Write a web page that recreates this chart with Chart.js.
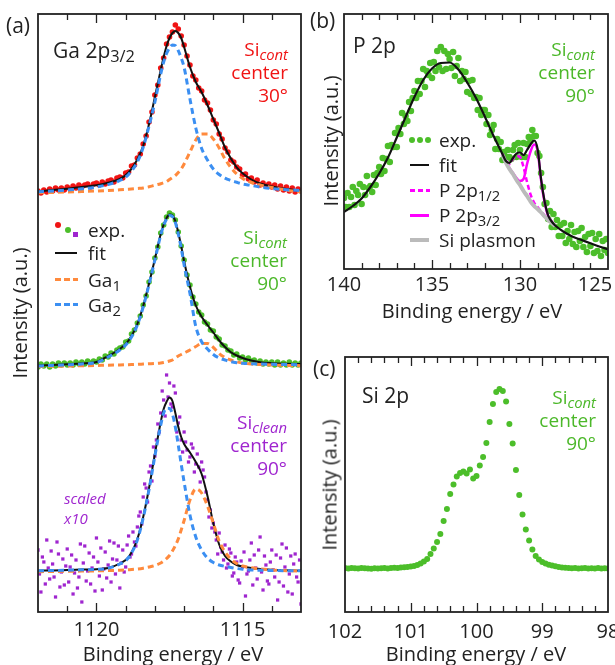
<!DOCTYPE html>
<html>
<head>
    <title>Ga 2p / P 2p / Si 2p</title>
    <script src="https://cdn.jsdelivr.net/npm/chart.js"></script>
    <style>
        body { margin: 0; background: #fff; font-family: "Open Sans", sans-serif; color: #222; }
        #fig { position: relative; width: 615px; height: 665px; overflow: hidden; }
        canvas { position: absolute; }
        .t { position: absolute; white-space: nowrap; transform: translateY(-50%); line-height: 1; font-size: 19px; }
        .big { font-size: 21px; }
        .ann { position: absolute; text-align: right; font-size: 19px; line-height: 23px; white-space: nowrap; }
        .ylab { position: absolute; font-size: 20px; white-space: nowrap; transform: translate(-50%, -50%) rotate(-90deg); }
        .xlab { position: absolute; font-size: 20px; white-space: nowrap; transform: translate(-50%, -50%); }
        sub { font-size: 0.78em; vertical-align: -0.3em; line-height: 0; }
        .dot { position: absolute; border-radius: 50%; }
        .sq { position: absolute; }
        .seg { position: absolute; }
    </style>
</head>
<body>
<div id="fig">
    <canvas id="chartA" width="310" height="665" style="left:0;top:0"></canvas>
    <canvas id="chartB" width="305" height="300" style="left:310px;top:0"></canvas>
    <canvas id="chartC" width="305" height="365" style="left:310px;top:300px"></canvas>

    <!-- panel (a) texts -->
    <div class="t big" style="left:6px;top:25px">(a)</div>
    <div class="t big" style="left:53px;top:50px">Ga 2p<sub>3/2</sub></div>
    <div class="ann" style="right:327px;top:38px;color:#f01414">Si<sub><i>cont</i></sub><br>center<br>30°</div>
    <div class="ann" style="right:328px;top:226px;color:#4cb82a">Si<sub><i>cont</i></sub><br>center<br>90°</div>
    <div class="ann" style="right:328px;top:411px;color:#9f25cf">Si<sub><i>clean</i></sub><br>center<br>90°</div>
    <div style="position:absolute;left:64px;top:488px;font-size:15px;line-height:20px;font-style:italic;color:#9f25cf">scaled<br>x10</div>
    <div class="ylab" style="left:19px;top:313px">Intensity (a.u.)</div>
    <div class="xlab" style="left:173px;top:653px">Binding energy / eV</div>

    <!-- legend (a) -->
    <div class="dot" style="left:55px;top:222px;width:6px;height:6px;background:#f01414"></div>
    <div class="dot" style="left:65px;top:227px;width:6px;height:6px;background:#4cbe2a"></div>
    <div class="sq" style="left:73px;top:232px;width:5px;height:5px;background:#9f25cf"></div>
    <div class="t" style="left:88px;top:230px">exp.</div>
    <div class="seg" style="left:55px;top:252px;width:22px;height:2px;background:#111"></div>
    <div class="t" style="left:88px;top:253px">fit</div>
    <div class="seg" style="left:55px;top:278px;width:23px;height:3px;background:repeating-linear-gradient(to right,#ff8a3d 0 6px,transparent 6px 9px)"></div>
    <div class="t" style="left:88px;top:280px">Ga<sub>1</sub></div>
    <div class="seg" style="left:55px;top:303px;width:23px;height:3px;background:repeating-linear-gradient(to right,#3b8ff2 0 6px,transparent 6px 9px)"></div>
    <div class="t" style="left:88px;top:305px">Ga<sub>2</sub></div>

    <!-- panel (b) texts -->
    <div class="t big" style="left:310px;top:20px">(b)</div>
    <div class="t big" style="left:353px;top:45px">P 2p</div>
    <div class="ann" style="right:20px;top:38px;color:#4cb82a">Si<sub><i>cont</i></sub><br>center<br>90°</div>
    <div class="ylab" style="left:330px;top:141px">Intensity (a.u.)</div>
    <div class="xlab" style="left:472px;top:310px">Binding energy / eV</div>

    <!-- legend (b) -->
    <div class="dot" style="left:409px;top:137px;width:6px;height:6px;background:#4cbe2a"></div>
    <div class="dot" style="left:417px;top:137px;width:6px;height:6px;background:#4cbe2a"></div>
    <div class="dot" style="left:425px;top:137px;width:6px;height:6px;background:#4cbe2a"></div>
    <div class="t" style="left:439px;top:140px">exp.</div>
    <div class="seg" style="left:410px;top:164px;width:19px;height:2px;background:#111"></div>
    <div class="t" style="left:439px;top:165px">fit</div>
    <div class="seg" style="left:410px;top:189px;width:20px;height:2.5px;background:repeating-linear-gradient(to right,#ff00ff 0 5px,transparent 5px 8px)"></div>
    <div class="t" style="left:439px;top:190px">P 2p<sub>1/2</sub></div>
    <div class="seg" style="left:410px;top:214px;width:19px;height:2.5px;background:#ff00ff"></div>
    <div class="t" style="left:439px;top:215px">P 2p<sub>3/2</sub></div>
    <div class="seg" style="left:410px;top:238px;width:19px;height:4px;background:#bbbbbb"></div>
    <div class="t" style="left:439px;top:240px">Si plasmon</div>

    <!-- panel (c) texts -->
    <div class="t big" style="left:313px;top:368px">(c)</div>
    <div class="t big" style="left:362px;top:395px">Si 2p</div>
    <div class="ann" style="right:19px;top:386px;color:#4cb82a">Si<sub><i>cont</i></sub><br>center<br>90°</div>
    <div class="ylab" style="left:329px;top:485px">Intensity (a.u.)</div>
    <div class="xlab" style="left:476px;top:653px">Binding energy / eV</div>
</div>

<script>
    // ---- Ga 2p3/2 (panel a) ----
    const gaFitEnergy = [1122.0, 1121.5, 1121.0, 1120.5, 1120.0, 1119.6, 1119.2, 1118.9, 1118.6, 1118.4, 1118.2, 1118.0,
        1117.8, 1117.7, 1117.6, 1117.5, 1117.4, 1117.3, 1117.2, 1117.1, 1117.0, 1116.8, 1116.6, 1116.4,
        1116.2, 1116.0, 1115.8, 1115.6, 1115.4, 1115.2, 1115.0, 1114.7, 1114.4, 1114.0, 1113.5, 1113.0];

    // intensities are stacked (offset) as in the figure
    const gaTopFit = [420.5, 422, 423.3, 425, 426.7, 429.3, 433, 439.5, 452.5, 466.3, 488, 515, 542, 555, 566, 574, 579, 581,
        579, 574, 565, 545, 530, 519.7, 507, 493, 479, 464.5, 453.5, 444.7, 438.7, 432.5, 428.5, 425.5, 423, 421.3];
    const gaTopGa2 = [420.3, 421, 422, 423.2, 425, 427.5, 431.5, 437.5, 450, 464.7, 486, 510, 538, 550, 558.5, 564, 567, 566.5,
        561.3, 554, 544.7, 513, 484, 463.5, 452, 443, 437.5, 433.8, 431.5, 429.7, 428, 426.6, 425, 423.5, 422.3, 421.5];
    const gaTopGa1 = [419.3, 419.6, 420, 420.5, 421, 421.5, 422.2, 422.8, 423.5, 424, 425.2, 426.8, 428.3, 429.3, 430.5, 432.5, 434.5, 436.5,
        439.5, 443, 448, 460, 472, 478, 478, 473, 464, 453, 444.5, 438, 433.5, 429.5, 427, 424.5, 422, 420];

    const gaMidFit = [246.3, 247, 247.7, 248.5, 250, 256, 263, 271.5, 288, 306, 328.5, 353, 378, 387.5, 394, 397.5, 396.5, 391,
        379.5, 366, 351, 325.3, 306.5, 295.3, 287, 279.5, 271.5, 265, 259.8, 256.5, 254, 251.5, 249.7, 248.8, 248.3, 248];
    const gaMidGa2 = [246, 246.6, 247.2, 248, 249.5, 255, 262, 270.5, 287, 305, 327.5, 352, 377, 386.5, 393, 396.5, 395.5, 389.5,
        378, 364, 347, 318.5, 285.5, 270.3, 263, 257.5, 254, 252, 250.3, 249.3, 248.7, 248.3, 248, 247.7, 247.5, 247.3];
    const gaMidGa1 = [245.5, 245.7, 246, 246.2, 246.5, 246.8, 247, 247.3, 247.6, 247.9, 248.2, 248.5, 249, 249.5, 250.2, 251, 252, 254,
        256, 257.5, 259, 262, 265.5, 268.5, 268.5, 264.5, 258.5, 254.5, 252, 250.3, 249, 248, 247.5, 247, 246.6, 246.3];

    const gaBotFit = [41.3, 41.6, 42, 42.4, 42.8, 44, 48.5, 55, 73, 95, 124, 158, 190, 203, 210.3, 214.5, 211, 199,
        185.3, 175, 168, 159.5, 150, 138, 116, 88.7, 67.5, 56, 50.5, 47, 45.5, 44, 43, 42.3, 41.8, 41.3];
    const gaBotGa2 = [41.3, 41.5, 41.8, 42.2, 42.6, 43.8, 48, 54.5, 72, 94, 122.5, 156, 187, 199, 203.7, 203.5, 198, 185,
        167, 148, 130, 97, 75, 62, 54, 49.5, 47, 45.6, 44.5, 43.5, 42.8, 42, 41.7, 41.5, 41.3, 41.3];
    const gaBotGa1 = [40.3, 40.5, 40.7, 40.9, 41.1, 41.4, 41.8, 42.3, 43, 43.8, 45, 46.5, 49, 51, 53.5, 56.5, 61, 66.5,
        73, 82, 91.5, 112, 123, 119, 106, 88.7, 71, 60, 53, 48.5, 46, 44.3, 43.2, 42, 41.3, 40.8];

    const gaExpEnergy = [1122.0, 1121.9, 1121.8, 1121.7, 1121.6, 1121.5, 1121.4, 1121.3, 1121.2, 1121.1,
        1121.0, 1120.9, 1120.8, 1120.7, 1120.6, 1120.5, 1120.4, 1120.3, 1120.2, 1120.1,
        1120.0, 1119.9, 1119.8, 1119.7, 1119.6, 1119.5, 1119.4, 1119.3, 1119.2, 1119.1,
        1119.0, 1118.9, 1118.8, 1118.7, 1118.6, 1118.5, 1118.4, 1118.3, 1118.2, 1118.1,
        1118.0, 1117.9, 1117.8, 1117.7, 1117.6, 1117.5, 1117.4, 1117.3, 1117.2, 1117.1,
        1117.0, 1116.9, 1116.8, 1116.7, 1116.6, 1116.5, 1116.4, 1116.3, 1116.2, 1116.1,
        1116.0, 1115.9, 1115.8, 1115.7, 1115.6, 1115.5, 1115.4, 1115.3, 1115.2, 1115.1,
        1115.0, 1114.9, 1114.8, 1114.7, 1114.6, 1114.5, 1114.4, 1114.3, 1114.2, 1114.1,
        1114.0, 1113.9, 1113.8, 1113.7, 1113.6, 1113.5, 1113.4, 1113.3, 1113.2, 1113.1,
        1113.0];
    const gaTopExp = [421, 419, 422, 420, 423, 421, 424, 422, 424, 422,
        425, 423, 426, 424, 427, 425, 427, 428, 425, 428,
        429, 427, 430, 428, 431, 432, 430, 434, 435, 434,
        439, 440, 446, 447, 454, 458, 468, 476, 490, 500,
        517, 527, 544, 554, 568, 575, 580, 587, 583, 576,
        567, 556, 547, 536, 532, 524, 521, 512, 509, 502,
        492, 488, 478, 473, 464, 460, 452, 450, 445, 443,
        437, 438, 433, 434, 430, 432, 427, 429, 426, 428,
        425, 427, 423, 426, 422, 425, 421, 424, 420, 423,
        421];
    const gaMidExp = [245, 248, 246, 248, 245, 248, 246, 249, 247, 249,
        247, 249, 247, 250, 248, 250, 248, 251, 249, 251,
        250, 253, 252, 256, 255, 259, 258, 262, 264, 265,
        270, 271, 278, 282, 289, 296, 307, 316, 330, 340,
        354, 365, 379, 387, 395, 399, 397, 392, 380, 366,
        352, 337, 327, 315, 308, 300, 297, 290, 288, 282,
        281, 275, 273, 267, 266, 262, 261, 257, 258, 254,
        255, 252, 254, 251, 252, 249, 251, 248, 250, 248,
        250, 247, 250, 247, 249, 247, 250, 247, 249, 247,
        249];

    // clean sample, scaled x10, recorded on a finer grid
    const gaBotEnergy = [1122.00, 1121.95, 1121.90, 1121.85, 1121.80, 1121.75, 1121.70, 1121.65, 1121.60, 1121.55,
        1121.50, 1121.45, 1121.40, 1121.35, 1121.30, 1121.25, 1121.20, 1121.15, 1121.10, 1121.05,
        1121.00, 1120.95, 1120.90, 1120.85, 1120.80, 1120.75, 1120.70, 1120.65, 1120.60, 1120.55,
        1120.50, 1120.45, 1120.40, 1120.35, 1120.30, 1120.25, 1120.20, 1120.15, 1120.10, 1120.05,
        1120.00, 1119.95, 1119.90, 1119.85, 1119.80, 1119.75, 1119.70, 1119.65, 1119.60, 1119.55,
        1119.50, 1119.45, 1119.40, 1119.35, 1119.30, 1119.25, 1119.20, 1119.15, 1119.10, 1119.05,
        1119.00, 1118.95, 1118.90, 1118.85, 1118.80, 1118.75, 1118.70, 1118.65, 1118.60, 1118.55,
        1118.50, 1118.45, 1118.40, 1118.35, 1118.30, 1118.25, 1118.20, 1118.15, 1118.10, 1118.05,
        1118.00, 1117.95, 1117.90, 1117.85, 1117.80, 1117.75, 1117.70, 1117.65, 1117.60, 1117.55,
        1117.50, 1117.45, 1117.40, 1117.35, 1117.30, 1117.25, 1117.20, 1117.15, 1117.10, 1117.05,
        1117.00, 1116.95, 1116.90, 1116.85, 1116.80, 1116.75, 1116.70, 1116.65, 1116.60, 1116.55,
        1116.50, 1116.45, 1116.40, 1116.35, 1116.30, 1116.25, 1116.20, 1116.15, 1116.10, 1116.05,
        1116.00, 1115.95, 1115.90, 1115.85, 1115.80, 1115.75, 1115.70, 1115.65, 1115.60, 1115.55,
        1115.50, 1115.45, 1115.40, 1115.35, 1115.30, 1115.25, 1115.20, 1115.15, 1115.10, 1115.05,
        1115.00, 1114.95, 1114.90, 1114.85, 1114.80, 1114.75, 1114.70, 1114.65, 1114.60, 1114.55,
        1114.50, 1114.45, 1114.40, 1114.35, 1114.30, 1114.25, 1114.20, 1114.15, 1114.10, 1114.05,
        1114.00, 1113.95, 1113.90, 1113.85, 1113.80, 1113.75, 1113.70, 1113.65, 1113.60, 1113.55,
        1113.50, 1113.45, 1113.40, 1113.35, 1113.30, 1113.25, 1113.20, 1113.15, 1113.10, 1113.05,
        1113.00];
    const gaBotExp = [62, 38, 20, 55, 50, 28, 72, 44, 33, 61,
        48, 35, 15, 70, 58, 25, 40, 53, 27, 46,
        63, 30, 45, 57, 18, 39, 52, 24, 35, 68,
        10, 49, 66, 31, 41, 59, 28, 44, 55, 21,
        74, 50, 36, 64, 22, 43, 60, 34, 47, 71,
        30, 53, 69, 38, 52, 66, 24, 49, 62, 40,
        45, 67, 76, 55, 58, 80, 70, 66, 85, 96,
        100, 88, 115, 128, 124, 110, 140, 146, 131, 165,
        156, 172, 188, 180, 199, 221, 212, 196, 237, 215,
        229, 208, 205, 226, 219, 180, 189, 195, 172, 160,
        180, 170, 162, 150, 155, 168, 164, 140, 148, 158,
        145, 130, 150, 142, 135, 120, 112, 95, 102, 84,
        89, 80, 72, 58, 79, 65, 60, 52, 67, 44,
        48, 63, 59, 36, 39, 55, 50, 32, 29, 51,
        45, 60, 16, 38, 41, 52, 69, 27, 57, 44,
        33, 62, 75, 40, 22, 56, 47, 31, 28, 50,
        62, 42, 35, 57, 12, 30, 54, 68, 26, 45,
        64, 20, 38, 56, 18, 48, 58, 35, 30, 52,
        8];

    // ---- P 2p (panel b) ----
    const pExpEnergy = [140.0, 139.9, 139.8, 139.7, 139.6, 139.5, 139.4, 139.3, 139.2, 139.1,
        139.0, 138.9, 138.8, 138.7, 138.6, 138.5, 138.4, 138.3, 138.2, 138.1,
        138.0, 137.9, 137.8, 137.7, 137.6, 137.5, 137.4, 137.3, 137.2, 137.1,
        137.0, 136.9, 136.8, 136.7, 136.6, 136.5, 136.4, 136.3, 136.2, 136.1,
        136.0, 135.9, 135.8, 135.7, 135.6, 135.5, 135.4, 135.3, 135.2, 135.1,
        135.0, 134.9, 134.8, 134.7, 134.6, 134.5, 134.4, 134.3, 134.2, 134.1,
        134.0, 133.9, 133.8, 133.7, 133.6, 133.5, 133.4, 133.3, 133.2, 133.1,
        133.0, 132.9, 132.8, 132.7, 132.6, 132.5, 132.4, 132.3, 132.2, 132.1,
        132.0, 131.9, 131.8, 131.7, 131.6, 131.5, 131.4, 131.3, 131.2, 131.1,
        131.0, 130.9, 130.8, 130.7, 130.6, 130.5, 130.4, 130.3, 130.2, 130.1,
        130.0, 129.9, 129.8, 129.7, 129.6, 129.5, 129.4, 129.3, 129.2, 129.1,
        129.0, 128.9, 128.8, 128.7, 128.6, 128.5, 128.4, 128.3, 128.2, 128.1,
        128.0, 127.9, 127.8, 127.7, 127.6, 127.5, 127.4, 127.3, 127.2, 127.1,
        127.0, 126.9, 126.8, 126.7, 126.6, 126.5, 126.4, 126.3, 126.2, 126.1,
        126.0, 125.9, 125.8, 125.7, 125.6, 125.5, 125.4, 125.3, 125.2, 125.1,
        125.0];
    const pExp = [71, 62, 76, 62, 72, 82, 64, 78, 74, 85,
        65, 82, 74, 93, 81, 83, 77, 94, 84, 96,
        102, 95, 111, 98, 110, 123, 107, 124, 122, 136,
        122, 141, 135, 156, 145, 153, 148, 167, 158, 171,
        178, 171, 188, 175, 188, 200, 182, 198, 194, 206,
        191, 207, 198, 218, 202, 222, 198, 218, 200, 215,
        210, 201, 217, 193, 203, 211, 188, 198, 190, 197,
        177, 188, 175, 189, 171, 172, 159, 171, 154, 159,
        159, 145, 154, 134, 139, 144, 120, 130, 120, 127,
        109, 117, 112, 119, 112, 110, 119, 124, 112, 126,
        119, 112, 126, 112, 125, 132, 128, 139, 133, 133,
        116, 113, 96, 82, 65, 66, 50, 58, 42, 55,
        42, 49, 33, 44, 33, 46, 26, 38, 30, 44,
        25, 37, 22, 38, 28, 41, 22, 32, 17, 35,
        23, 36, 16, 30, 18, 35, 13, 28, 19, 30,
        16];

    const pFitEnergy = [140, 139.5, 139, 138.5, 138, 137.5, 137, 136.5, 136, 135.5, 135, 134.5, 134, 133.5, 133, 132.5, 132, 131.5, 131,
        130.8, 130.6, 130.4, 130.2, 130.0, 129.8, 129.6, 129.4, 129.2, 129.0, 128.8, 128.6, 128.4, 128.2, 128.0,
        127.5, 127, 126.5, 126, 125.5, 125];
    const pFit = [57, 63, 70.5, 82, 95.5, 111.5, 131.5, 152, 172, 189, 200.5, 206, 206.5, 199.5, 186.5, 171, 152.5, 133, 115,
        108, 106, 111, 115.5, 116.5, 114, 119, 124.5, 128.5, 120, 89.5, 67.5, 53.5, 47.5, 43.5,
        37, 32.3, 29, 25.7, 22.5, 19.7];

    const pCompEnergy = [131.0, 130.8, 130.6, 130.4, 130.2, 130.0, 129.8, 129.6, 129.4, 129.2, 129.0, 128.8, 128.6, 128.4, 128.2, 128.0];
    const pPlasmon = [114, 106.5, 100, 95, 89, 84, 78, 73, 67.5, 63, 60, 56.5, 52.5, 49, 46, 43];
    const p12 = [115, 109, 105, 110, 113, 112, 102, 87, 74.5, 66.5, 62, 57.5, 53.5, 49.5, 46, 43];
    const p32 = [114.5, 107, 101, 96, 91, 88, 90, 105, 117.5, 124.5, 118, 88.5, 66.5, 53, 47.5, 43.5];

    // ---- Si 2p (panel c) ----
    const siEnergy = [102.00, 101.95, 101.90, 101.85, 101.80, 101.75, 101.70, 101.65, 101.60, 101.55,
        101.50, 101.45, 101.40, 101.35, 101.30, 101.25, 101.20, 101.15, 101.10, 101.05,
        101.00, 100.95, 100.90, 100.85, 100.80, 100.75, 100.70, 100.65, 100.60, 100.55,
        100.50, 100.45, 100.40, 100.35, 100.30, 100.25, 100.20, 100.15, 100.10, 100.05,
        100.00, 99.95, 99.90, 99.85, 99.80, 99.75, 99.70, 99.65, 99.60, 99.55,
        99.50, 99.45, 99.40, 99.35, 99.30, 99.25, 99.20, 99.15, 99.10, 99.05,
        99.00, 98.95, 98.90, 98.85, 98.80, 98.75, 98.70, 98.65, 98.60, 98.55,
        98.50, 98.45, 98.40, 98.35, 98.30, 98.25, 98.20, 98.15, 98.10, 98.05,
        98.00];
    const siExp = [44, 43.5, 44, 43.7, 43.5, 44, 43.8, 43.5, 43.3, 43.7,
        43.5, 43.8, 44, 43.6, 44, 44.3, 44, 44.5, 44.8, 45,
        45.5, 46, 47, 48.5, 50.5, 53, 58, 63.5, 70, 78,
        91, 103, 118, 127.5, 135.5, 139, 140.5, 138.5, 142.5, 133.5,
        136, 146.5, 155, 169, 190, 208, 220, 223, 221, 210.5,
        188, 168.5, 142, 117, 97.5, 82.5, 71.5, 62.5, 56, 52.5,
        50, 48.5, 47.3, 46.5, 45.7, 45, 44.6, 44.3, 44, 43.8,
        44, 43.6, 43.8, 44, 43.5, 43.8, 43.6, 44, 43.5, 43.8,
        43.6];

    // ---- axis ticks ----
    const ticksA = [1121, 1120, 1119, 1118, 1117, 1116, 1115, 1114];
    const labelsA = [1120, 1115];
    const ticksB = [139, 138, 137, 136, 135, 134, 133, 132, 131, 130, 129, 128, 127, 126];
    const labelsB = [140, 135, 130, 125];
    const ticksC = [101.8, 101.6, 101.4, 101.2, 101, 100.8, 100.6, 100.4, 100.2, 100, 99.8, 99.6, 99.4, 99.2, 99, 98.8, 98.6, 98.4, 98.2];
    const labelsC = [102, 101, 100, 99, 98];

    const RED = '#f01414', GREEN = '#4cbe2a', PURPLE = '#9f25cf';
    const ORANGE = '#ff8a3d', BLUE = '#3b8ff2', MAGENTA = '#ff00ff', GREY = '#bbbbbb';

    const pts = (xs, ys) => xs.map((x, i) => ({ x: x, y: ys[i] }));

    // frame with inward ticks on top and bottom, plus the tick labels
    const framePlugin = {
        id: 'frame',
        afterDatasetsDraw(chart, args, opts) {
            const ctx = chart.ctx;
            const a = chart.chartArea;
            const x = chart.scales.x;
            ctx.save();
            ctx.strokeStyle = '#222';
            ctx.lineWidth = 1.3;
            ctx.beginPath();
            opts.ticks.forEach(v => {
                const px = Math.round(x.getPixelForValue(v)) + 0.5;
                const len = opts.major.includes(v) ? 9 : 6;
                ctx.moveTo(px, a.bottom); ctx.lineTo(px, a.bottom - len);
                ctx.moveTo(px, a.top); ctx.lineTo(px, a.top + len);
            });
            ctx.stroke();
            ctx.lineWidth = 1.8;
            ctx.strokeRect(a.left, a.top, a.right - a.left, a.bottom - a.top);
            ctx.fillStyle = '#222';
            ctx.font = '20px "Open Sans"';
            ctx.textAlign = 'center';
            ctx.textBaseline = 'middle';
            opts.labels.forEach((v, i) => {
                const shift = opts.shift ? opts.shift[i] : 0;
                ctx.fillText(String(v), x.getPixelForValue(v) + shift, a.bottom + opts.gap);
            });
            ctx.restore();
        }
    };

    function makeChart(id, xMin, xMax, yMax, padding, datasets, frame) {
        return new Chart(document.getElementById(id), {
            type: 'scatter',
            data: { datasets: datasets },
            options: {
                responsive: false,
                animation: false,
                events: [],
                layout: { padding: padding },
                scales: {
                    x: { type: 'linear', reverse: true, min: xMin, max: xMax, display: false },
                    y: { type: 'linear', min: 0, max: yMax, display: false }
                },
                plugins: { legend: { display: false }, tooltip: { enabled: false }, frame: frame }
            },
            plugins: [framePlugin]
        });
    }

    const dots = (xs, ys, color, r, style, order) => ({
        data: pts(xs, ys), showLine: false, pointRadius: r, pointStyle: style || 'circle',
        pointBackgroundColor: color, pointBorderWidth: 0, order: order
    });
    const curve = (xs, ys, color, width, dash, order) => ({
        data: pts(xs, ys), showLine: true, pointRadius: 0, borderColor: color, borderWidth: width,
        borderDash: dash || [], cubicInterpolationMode: 'monotone', order: order
    });

    makeChart('chartA', 1113, 1122, 598, { left: 38, top: 14, right: 9, bottom: 53 }, [
        dots(gaExpEnergy, gaTopExp, RED, 2.8, 'circle', 10),
        dots(gaExpEnergy, gaMidExp, GREEN, 2.8, 'circle', 10),
        dots(gaBotEnergy, gaBotExp, PURPLE, 2.3, 'rect', 10),
        curve(gaFitEnergy, gaTopFit, '#111', 2, null, 3),
        curve(gaFitEnergy, gaMidFit, '#111', 2, null, 3),
        curve(gaFitEnergy, gaBotFit, '#111', 2, null, 3),
        curve(gaFitEnergy, gaTopGa1, ORANGE, 3, [6, 4], 2),
        curve(gaFitEnergy, gaMidGa1, ORANGE, 3, [6, 4], 2),
        curve(gaFitEnergy, gaBotGa1, ORANGE, 3, [6, 4], 2),
        curve(gaFitEnergy, gaTopGa2, BLUE, 3, [6, 4], 1),
        curve(gaFitEnergy, gaMidGa2, BLUE, 3, [6, 4], 1),
        curve(gaFitEnergy, gaBotGa2, BLUE, 3, [6, 4], 1)
    ], { ticks: ticksA, major: labelsA, labels: labelsA, gap: 18 });

    makeChart('chartB', 125, 140, 255, { left: 34, top: 14, right: 7, bottom: 31 }, [
        dots(pExpEnergy, pExp, GREEN, 3.3, 'circle', 10),
        curve(pCompEnergy, p12, MAGENTA, 2.5, [5, 3], 5),
        curve(pCompEnergy, p32, MAGENTA, 2.5, null, 4),
        curve(pCompEnergy, pPlasmon, GREY, 4, null, 3),
        curve(pFitEnergy, pFit, '#111', 2.2, null, 1)
    ], { ticks: ticksB, major: [135, 130], labels: labelsB, gap: 16, shift: [0, 0, 0, -13] });

    makeChart('chartC', 98, 102, 255, { left: 35, top: 57, right: 7, bottom: 53 }, [
        dots(siEnergy, siExp, GREEN, 3, 'circle', 1)
    ], { ticks: ticksC, major: [101, 100, 99], labels: labelsC, gap: 20 });
</script>
</body>
</html>
